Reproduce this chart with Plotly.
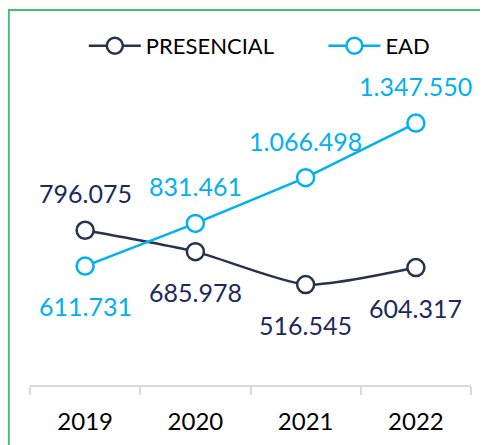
import plotly.graph_objects as go

years = ["2019", "2020", "2021", "2022"]
presencial = [796075, 685978, 516545, 604317]
ead = [611731, 831461, 1066498, 1347550]

# label side for each point: +1 above, -1 below
presencial_side = [1, -1, -1, -1]
ead_side = [-1, 1, 1, 1]

navy_line = "#27324D"
navy_text = "#1B2A5A"
blue = "#00B0F0"


def fmt(v):
    return f"{v:,}".replace(",", ".")


fig = go.Figure()
fig.add_trace(go.Scatter(
    x=years, y=presencial, name="PRESENCIAL" + "\u00a0" * 8, mode="lines+markers",
    line=dict(color=navy_line, width=2.5, shape="spline", smoothing=0.6),
    marker=dict(symbol="circle", size=17, color="white",
                line=dict(color=navy_line, width=2.5)),
))
fig.add_trace(go.Scatter(
    x=years, y=ead, name="EAD", mode="lines+markers",
    line=dict(color=blue, width=2.5),
    marker=dict(symbol="circle", size=17, color="white",
                line=dict(color=blue, width=2.5)),
))

# value labels, placed by category index so "2019" isn't read as a number
for vals, sides, col in [(presencial, presencial_side, navy_text),
                         (ead, ead_side, blue)]:
    for i, (v, s) in enumerate(zip(vals, sides)):
        fig.add_annotation(x=i, y=v, text=fmt(v), showarrow=False,
                           yshift=37 if s > 0 else -40,
                           font=dict(family="Lato", size=25, color=col))

# green frame of the chart area
fig.add_shape(type="rect", xref="paper", yref="paper",
              x0=-0.048, x1=1.1, y0=-0.3, y1=1.206,
              line=dict(color="#45BE72", width=2), layer="below")

fig.update_layout(
    width=488, height=445,
    margin=dict(l=22, r=25, t=66, b=68),
    paper_bgcolor="white", plot_bgcolor="white",
    showlegend=True,
    legend=dict(orientation="h", x=0.52, xanchor="center", y=1.09,
                yanchor="middle", font=dict(family="Lato", size=22, color="black"),
                itemwidth=52, bgcolor="rgba(0,0,0,0)"),
    font=dict(family="Lato"),
)
fig.update_xaxes(
    type="category", showgrid=False, showline=True, linecolor="#D9D9D9",
    linewidth=1.5, ticks="outside", tickson="boundaries", ticklen=8,
    tickcolor="#D9D9D9", tickwidth=1.5, ticklabelstandoff=14,
    tickfont=dict(family="Lato", size=24, color="black"),
    range=[-0.5, 3.5],
)
fig.update_yaxes(visible=False, range=[0, 1600000], showgrid=False)

fig.write_html("out.html")
